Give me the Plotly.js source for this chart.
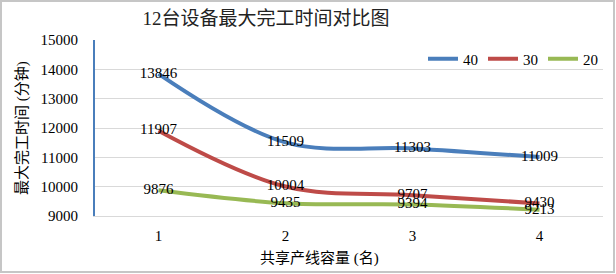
<!DOCTYPE html>
<html>
<head>
<meta charset="utf-8">
<script src="https://cdn.plot.ly/plotly-3.0.1.min.js"></script>
<style>
html,body{margin:0;padding:0;background:#fff;}
#chart{width:616px;height:274px;}
</style>
</head>
<body>
<div id="chart"></div>
<script>
var categories = ['1', '2', '3', '4'];
var seriesNames = ['40', '30', '20'];
var series40 = [13846, 11509, 11303, 11009];
var series30 = [11907, 10004, 9707, 9430];
var series20 = [9876, 9435, 9394, 9213];
var yTicks = [9000, 10000, 11000, 12000, 13000, 14000, 15000];

var FONT = '"Liberation Serif", "Times New Roman", "Noto Sans CJK SC", serif';
var colors = ['#4A7EBB', '#BE4B48', '#98B954'];
var allSeries = [series40, series30, series20];

var traces = allSeries.map(function (vals, i) {
  return {
    x: categories,
    y: vals,
    name: seriesNames[i],
    type: 'scatter',
    mode: 'lines+text',
    line: {color: colors[i], width: 4, shape: 'spline', smoothing: 1},
    text: vals.map(String),
    textposition: 'middle center',
    textfont: {family: FONT, size: 15, color: '#000'},
    cliponaxis: false,
    hoverinfo: 'x+y+name'
  };
});

var layout = {
  width: 616,
  height: 274,
  margin: {l: 95, r: 13, t: 40, b: 58},
  paper_bgcolor: '#fff',
  plot_bgcolor: '#fff',
  font: {family: FONT, size: 15, color: '#000'},
  title: {
    text: '12台设备最大完工时间对比图',
    font: {family: FONT, size: 19, color: '#222'},
    x: 266 / 616, xref: 'container', xanchor: 'center',
    y: 1 - 18 / 274, yref: 'container', yanchor: 'middle'
  },
  xaxis: {
    type: 'category',
    range: [-0.5, 3.5],
    showgrid: false,
    showline: true,
    linecolor: '#d9d9d9',
    linewidth: 1,
    ticks: '',
    ticklabelstandoff: 6,
    tickfont: {family: FONT, size: 15, color: '#000'},
    fixedrange: true
  },
  yaxis: {
    range: [9000, 15000],
    tickvals: yTicks,
    ticktext: yTicks.map(String),
    showgrid: true,
    gridcolor: '#d9d9d9',
    gridwidth: 1,
    showline: true,
    linecolor: '#4A7EBB',
    linewidth: 2,
    zeroline: false,
    ticks: '',
    ticklabelstandoff: 12,
    tickfont: {family: FONT, size: 15, color: '#000'},
    fixedrange: true
  },
  showlegend: true,
  legend: {
    orientation: 'h',
    x: 1, xanchor: 'right',
    y: (216 - 59) / 176, yanchor: 'middle',
    font: {family: FONT, size: 15, color: '#000'},
    bgcolor: 'rgba(0,0,0,0)',
    itemwidth: 30,
    traceorder: 'normal'
  },
  annotations: [
    {
      text: '最大完工时间 (分钟)',
      xref: 'paper', yref: 'paper',
      x: (22 - 95) / 508, y: 0.5,
      xanchor: 'center', yanchor: 'middle',
      textangle: -90,
      showarrow: false,
      font: {family: FONT, size: 15, color: '#000'}
    },
    {
      text: '共享产线容量 (名)',
      xref: 'paper', yref: 'paper',
      x: (319 - 95) / 508, y: (216 - 258) / 176,
      xanchor: 'center', yanchor: 'middle',
      showarrow: false,
      font: {family: FONT, size: 15, color: '#000'}
    }
  ],
  shapes: [
    {
      type: 'rect', xref: 'paper', yref: 'paper',
      x0: (1 - 95) / 508, x1: (614 - 95) / 508,
      y0: (216 - 272) / 176, y1: (216 - 1) / 176,
      line: {color: '#c6c6c6', width: 2},
      fillcolor: 'rgba(0,0,0,0)',
      layer: 'below'
    }
  ]
};

Plotly.newPlot('chart', traces, layout, {displayModeBar: false, staticPlot: true});
</script>
</body>
</html>
